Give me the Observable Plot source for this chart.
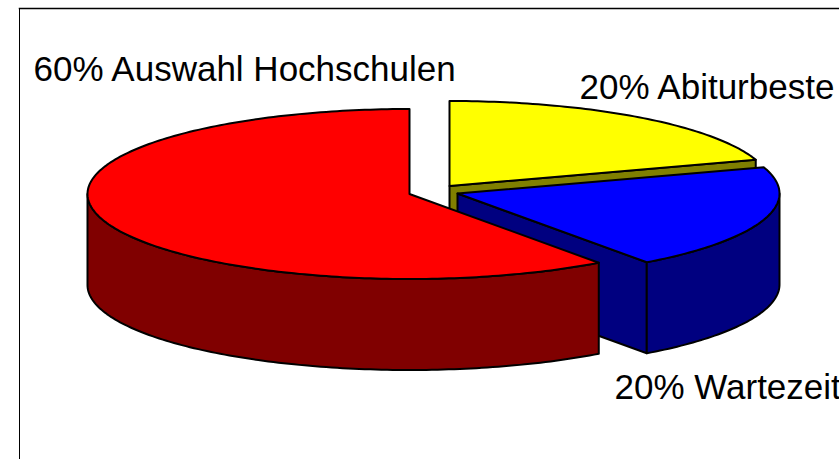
<!DOCTYPE html>
<html>
<head>
<meta charset="utf-8">
<script src="https://cdn.jsdelivr.net/npm/d3@7"></script>
<script src="https://cdn.jsdelivr.net/npm/@observablehq/plot@0.6"></script>
<style>
html,body{margin:0;padding:0;background:#fff;overflow:hidden}
svg{display:block}
</style>
</head>
<body>
<div id="chart"></div>
<script>
// Data
const categories = ["20% Abiturbeste", "20% Wartezeit", "60% Auswahl Hochschulen"];
const shares = [20, 20, 60];
const topColors = ["#ffff00", "#0000ff", "#ff0000"];
const sideColors = ["#808000", "#000080", "#800000"];

// Layout of the 3D pie (units of the x/y scales: radius = 1)
const explode = [[40 / 322, 8 / 85], [48 / 322, 0.5 / 85], [0, 0]];
const depth = 91 / 85;
const labelPos = [[579, 98], [614, 398], [33, 80]];

const total = d3.sum(shares);
const cum = d3.cumsum(shares);
const STEP = 1; // degrees per polygon vertex

function rim(i, a0, a1, drop) {
  const pts = [];
  const n = Math.max(1, Math.round((a1 - a0) / STEP));
  for (let k = 0; k <= n; k++) {
    const a = (a0 + (a1 - a0) * k / n) * Math.PI / 180;
    pts.push({x: explode[i][0] + Math.sin(a), y: explode[i][1] + Math.cos(a) - drop});
  }
  return pts;
}
const apex = (i, drop) => ({x: explode[i][0], y: explode[i][1] - drop});
const closed = pts => [...pts, pts[0]];

// Degrees of each slice, clockwise from 12 o'clock
const spans = shares.map((s, i) => [(cum[i] - s) / total * 360, cum[i] / total * 360]);

function topFace(i) {
  const [a0, a1] = spans[i];
  return closed([apex(i, 0), ...rim(i, a0, a1, 0)]);
}
function outerWall(i, a0, a1) {
  return closed([...rim(i, a0, a1, 0), ...rim(i, a0, a1, depth).reverse()]);
}
function radialWall(i, a) {
  const p = rim(i, a, a, 0)[0], q = rim(i, a, a, depth)[0];
  return closed([apex(i, 0), p, q, apex(i, depth)]);
}

const pieces = [
  // Yellow: only the cut face at its end angle shows
  [radialWall(0, spans[0][1]), sideColors[0]],
  [topFace(0), topColors[0]],
  // Blue: cut face at end angle, then the outer wall
  [radialWall(1, spans[1][1]), sideColors[1]],
  [outerWall(1, 90, spans[1][1]), sideColors[1]],
  [topFace(1), topColors[1]],
  // Red: outer wall from its start angle round to the far left
  [outerWall(2, spans[2][0], 270), sideColors[2]],
  [topFace(2), topColors[2]]
];

const font = {fontFamily: "'Liberation Sans', Arial, sans-serif", fontSize: 35, fill: "#000"};

const plot = Plot.plot({
  width: 839,
  height: 459,
  margin: 0,
  style: {background: "#fff", overflow: "hidden"},
  x: {domain: [-1, 1], range: [87, 731], axis: null},
  y: {domain: [1, -1], range: [108.5, 278.5], axis: null},
  marks: [
    Plot.frame({anchor: "top", insetTop: 8, insetLeft: 19, stroke: "#000", strokeWidth: 1.5}),
    Plot.frame({anchor: "left", insetLeft: 19, insetTop: 8, stroke: "#000", strokeWidth: 1}),
    ...pieces.map(([pts, color]) => Plot.line(pts, {
      x: "x", y: "y", fill: color, stroke: "#000", strokeWidth: 2,
      strokeLinejoin: "round", curve: "linear"
    })),
    ...categories.map((c, i) => Plot.text([c], {
      frameAnchor: "top-left", dx: labelPos[i][0], dy: labelPos[i][1],
      textAnchor: "start", lineAnchor: "bottom", ...font
    }))
  ]
});
document.getElementById("chart").append(plot);
</script>
</body>
</html>
